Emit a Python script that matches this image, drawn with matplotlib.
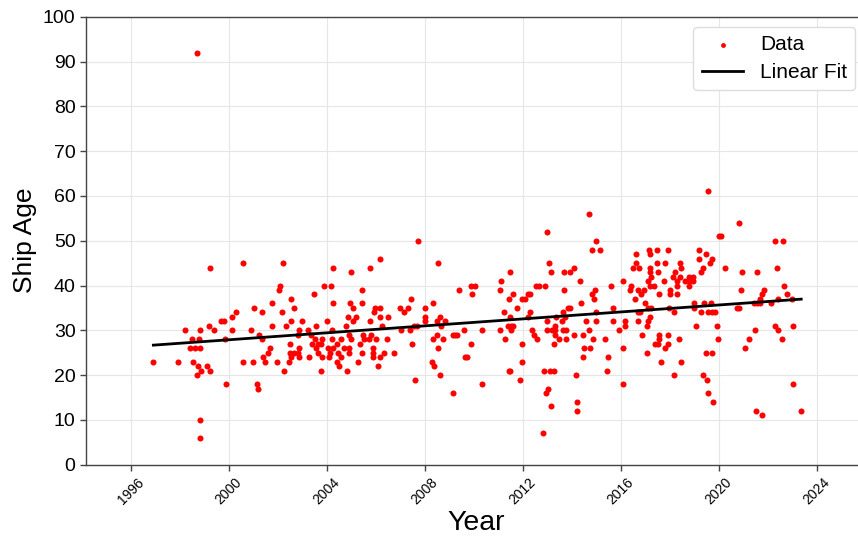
import numpy as np
import matplotlib
matplotlib.use("Agg")
import matplotlib.pyplot as plt

plt.rcParams["font.family"] = ["Liberation Sans", "DejaVu Sans"]

# (year, ship age) observations, grouped by period
points_1996_2000 = [
    (1998.69, 92), (1999.25, 44), (2000.57, 45), (2000.30, 34), (2000.11, 33),
    (1999.67, 32), (1999.80, 32), (1999.21, 31), (1998.21, 30), (1998.82, 30),
    (1999.40, 30), (2000.14, 30), (1998.51, 28), (1998.78, 28), (1999.84, 28),
    (1998.43, 26), (1998.62, 26), (1998.83, 26), (1996.92, 23), (1997.91, 23),
    (1998.55, 23), (2000.57, 23), (1998.74, 22), (1999.11, 22), (1998.88, 21),
    (1999.23, 21), (1998.69, 20), (1999.88, 18), (1998.83, 10), (1998.83, 6),
]
points_2001_2005 = [
    (2002.22, 45), (2004.27, 44), (2004.97, 43), (2002.10, 40), (2002.05, 39),
    (2003.89, 40), (2004.15, 40), (2003.48, 38), (2002.52, 37), (2004.26, 36),
    (2004.95, 36), (2005.06, 35), (2001.03, 35), (2001.75, 36), (2002.66, 35),
    (2001.36, 34), (2002.16, 34), (2004.88, 33), (2005.19, 33), (2002.52, 32),
    (2002.98, 32), (2005.06, 32), (2002.33, 31), (2001.75, 31), (2003.57, 31),
    (2003.99, 32), (2004.77, 31), (2000.91, 30), (2002.85, 30), (2003.23, 30),
    (2004.23, 30), (2001.25, 29), (2002.83, 29), (2003.35, 29), (2004.92, 29),
    (2001.36, 28), (2003.52, 28), (2003.80, 28), (2004.20, 28), (2004.59, 28),
    (2004.97, 28), (2002.51, 27), (2003.38, 27), (2003.62, 27), (2003.75, 27),
    (2004.41, 27), (2001.68, 26), (2002.87, 26), (2003.54, 26), (2004.05, 26),
    (2004.27, 26), (2004.69, 26), (2004.92, 26), (2001.38, 24), (2001.59, 25),
    (2002.48, 25), (2002.66, 25), (2002.83, 25), (2003.65, 25), (2004.12, 25),
    (2004.47, 25), (2004.89, 25), (2001.49, 23), (2000.98, 23), (2001.98, 23),
    (2002.44, 23), (2002.53, 24), (2002.87, 24), (2003.28, 24), (2003.82, 24),
    (2004.09, 24), (2004.58, 24), (2004.41, 23), (2004.50, 22), (2005.27, 23),
    (2002.25, 21), (2003.77, 21), (2004.83, 21), (2001.13, 18), (2001.18, 17),
]
points_2005_2010 = [
    (2007.74, 50), (2006.18, 46), (2005.75, 44), (2008.54, 45), (2005.43, 39),
    (2009.41, 39), (2005.43, 36), (2007.44, 37), (2005.95, 35), (2006.18, 35),
    (2006.97, 35), (2007.32, 35), (2008.01, 35), (2005.91, 34), (2007.14, 34),
    (2006.19, 33), (2006.51, 33), (2008.02, 33), (2008.61, 33), (2008.32, 36),
    (2005.77, 32), (2008.02, 32), (2008.50, 32), (2008.84, 32), (2008.67, 31),
    (2006.26, 31), (2007.55, 31), (2007.68, 31), (2007.01, 30), (2007.39, 30),
    (2009.58, 30), (2005.48, 29), (2005.79, 29), (2008.51, 29), (2009.13, 29),
    (2009.24, 29), (2009.32, 29), (2005.50, 28), (2005.72, 28), (2005.99, 28),
    (2006.45, 28), (2008.35, 28), (2008.75, 28), (2005.35, 27), (2007.48, 27),
    (2009.87, 27), (2005.88, 26), (2008.54, 26), (2005.45, 25), (2005.88, 25),
    (2006.33, 25), (2006.74, 25), (2005.88, 24), (2006.15, 24), (2009.65, 24),
    (2009.73, 24), (2006.10, 22), (2008.29, 23), (2008.39, 22), (2008.62, 20),
    (2007.58, 19), (2009.13, 16), (2009.89, 40), (2010.03, 40), (2009.93, 38),
]
points_2010_2014 = [
    (2012.97, 52), (2013.08, 45), (2013.15, 43), (2013.69, 43), (2013.92, 43),
    (2014.09, 44), (2014.32, 41), (2011.46, 43), (2011.09, 41), (2011.07, 39),
    (2012.54, 40), (2012.66, 40), (2012.91, 40), (2013.66, 39), (2011.61, 38),
    (2011.45, 37), (2012.22, 38), (2012.29, 38), (2011.95, 37), (2012.09, 37),
    (2014.39, 36), (2011.78, 35), (2013.85, 35), (2013.94, 35), (2011.25, 34),
    (2012.29, 34), (2013.62, 34), (2012.20, 33), (2011.46, 33), (2013.71, 33),
    (2013.00, 32), (2013.35, 33), (2014.57, 32), (2011.38, 31), (2011.52, 31),
    (2011.60, 31), (2013.33, 31), (2013.58, 32), (2010.35, 30), (2011.07, 30),
    (2011.52, 30), (2012.36, 30), (2013.00, 30), (2013.17, 30), (2013.31, 30),
    (2013.65, 30), (2013.75, 30), (2012.44, 29), (2013.33, 29), (2014.09, 29),
    (2014.46, 29), (2011.29, 28), (2012.56, 28), (2013.48, 28), (2013.75, 28),
    (2011.98, 27), (2013.28, 27), (2014.49, 26), (2014.47, 24), (2011.97, 23),
    (2011.42, 21), (2011.49, 21), (2012.86, 21), (2013.09, 21), (2013.27, 21),
    (2010.34, 18), (2011.90, 19), (2014.16, 20), (2013.01, 17), (2012.93, 16),
    (2013.15, 13), (2014.22, 14), (2014.23, 12), (2012.81, 7),
]
points_2014_2018 = [
    (2014.68, 56), (2014.97, 50), (2014.81, 48), (2015.15, 48), (2014.96, 39),
    (2014.81, 38), (2014.91, 37), (2015.58, 40), (2015.67, 35), (2015.00, 34),
    (2014.97, 32), (2015.68, 32), (2014.69, 30), (2014.87, 28), (2015.34, 28),
    (2014.76, 26), (2015.46, 24), (2015.45, 21), (2016.09, 18), (2015.94, 30),
    (2016.18, 32), (2016.15, 31), (2016.10, 41), (2016.09, 26), (2016.60, 47),
    (2016.49, 44), (2016.72, 44), (2016.63, 45), (2017.14, 48), (2017.49, 48),
    (2017.93, 48), (2017.18, 47), (2017.18, 44), (2017.18, 43), (2017.47, 45),
    (2017.52, 43), (2017.82, 45), (2017.10, 41), (2017.21, 42), (2017.78, 41),
    (2018.19, 43), (2018.12, 42), (2018.42, 45), (2018.47, 44), (2018.28, 41),
    (2018.43, 42), (2018.62, 41), (2018.80, 41), (2018.93, 42), (2018.93, 41),
    (2016.40, 40), (2016.38, 39), (2016.70, 39), (2016.83, 38), (2016.95, 39),
    (2017.17, 40), (2017.35, 40), (2018.01, 39), (2018.29, 40), (2018.77, 40),
    (2018.00, 38), (2018.31, 38), (2017.54, 38), (2016.56, 37), (2016.97, 36),
    (2017.12, 35), (2016.70, 34), (2016.80, 34), (2017.22, 35), (2017.96, 35),
    (2018.15, 34), (2017.17, 33), (2017.05, 31), (2017.10, 32), (2016.70, 32),
    (2016.86, 29), (2017.56, 29), (2017.93, 29), (2017.55, 28), (2017.51, 27),
    (2017.41, 27), (2017.91, 27), (2017.81, 26), (2018.36, 28), (2017.05, 25),
    (2017.62, 23), (2018.47, 23), (2018.15, 20),
]
points_2019_2023 = [
    (2019.54, 61), (2020.81, 54), (2019.99, 51), (2020.08, 51), (2022.28, 50),
    (2022.63, 50), (2019.17, 48), (2019.46, 47), (2019.72, 46), (2019.17, 46),
    (2019.62, 45), (2020.24, 44), (2022.36, 44), (2019.35, 44), (2019.27, 43),
    (2020.96, 43), (2021.56, 43), (2018.80, 42), (2022.64, 40), (2020.90, 39),
    (2021.86, 39), (2021.78, 38), (2022.77, 38), (2021.67, 37), (2022.43, 37),
    (2022.97, 37), (2021.57, 36), (2021.44, 36), (2021.68, 36), (2022.12, 36),
    (2019.00, 36), (2019.41, 36), (2019.68, 36), (2020.73, 35), (2020.83, 35),
    (2018.97, 35), (2019.28, 34), (2019.57, 34), (2019.70, 34), (2019.84, 34),
    (2019.07, 31), (2019.92, 31), (2022.28, 31), (2023.01, 31), (2021.49, 30),
    (2022.40, 30), (2019.96, 28), (2021.23, 28), (2022.56, 28), (2021.07, 26),
    (2019.47, 25), (2019.73, 25), (2019.37, 20), (2019.53, 19), (2019.57, 16),
    (2019.77, 14), (2023.01, 18), (2021.52, 12), (2021.74, 11), (2023.36, 12),
]

year_ticks = [1996, 2000, 2004, 2008, 2012, 2016, 2020, 2024]
age_ticks = [0, 10, 20, 30, 40, 50, 60, 70, 80, 90, 100]

all_points = np.array(points_1996_2000 + points_2001_2005 + points_2005_2010
                      + points_2010_2014 + points_2014_2018 + points_2019_2023)
years = all_points[:, 0]
ages = all_points[:, 1]

# least-squares trend line over the observed span
slope, intercept = np.polyfit(years, ages, 1)
fit_x = np.array([years.min(), years.max()])
fit_y = slope * fit_x + intercept

fig = plt.figure(figsize=(8.58, 5.36), dpi=100)
ax = fig.add_axes([0.1002, 0.133, 0.909, 0.8358])

ax.scatter(years, ages, s=19, color="red", linewidths=0, label="Data", zorder=3)
ax.plot(fit_x, fit_y, color="black", linewidth=2, label="Linear Fit", zorder=4)

ax.set_xlim(1994.17, 2026.0)
ax.set_ylim(0, 100)
ax.set_xticks(year_ticks)
ax.set_xticklabels([str(t) for t in year_ticks], rotation=45, fontsize=10)
ax.set_yticks(age_ticks)
ax.tick_params(axis="y", labelsize=14)
ax.tick_params(axis="both", direction="out", length=4, width=1, color="#444444")

ax.grid(True, color="#e6e6e6", linewidth=0.8)
ax.set_axisbelow(True)
for side in ["left", "bottom", "top", "right"]:
    ax.spines[side].set_color("#444444")
    ax.spines[side].set_linewidth(1.0)

ax.set_xlabel("Year", fontsize=20.5, labelpad=2)
ax.set_ylabel("Ship Age", fontsize=19)

ax.legend(loc="upper right", fontsize=15, scatterpoints=1, markerscale=0.8,
          framealpha=1.0, edgecolor="#dddddd", fancybox=True,
          labelspacing=0.4)

fig.savefig("out.png", dpi=100)
